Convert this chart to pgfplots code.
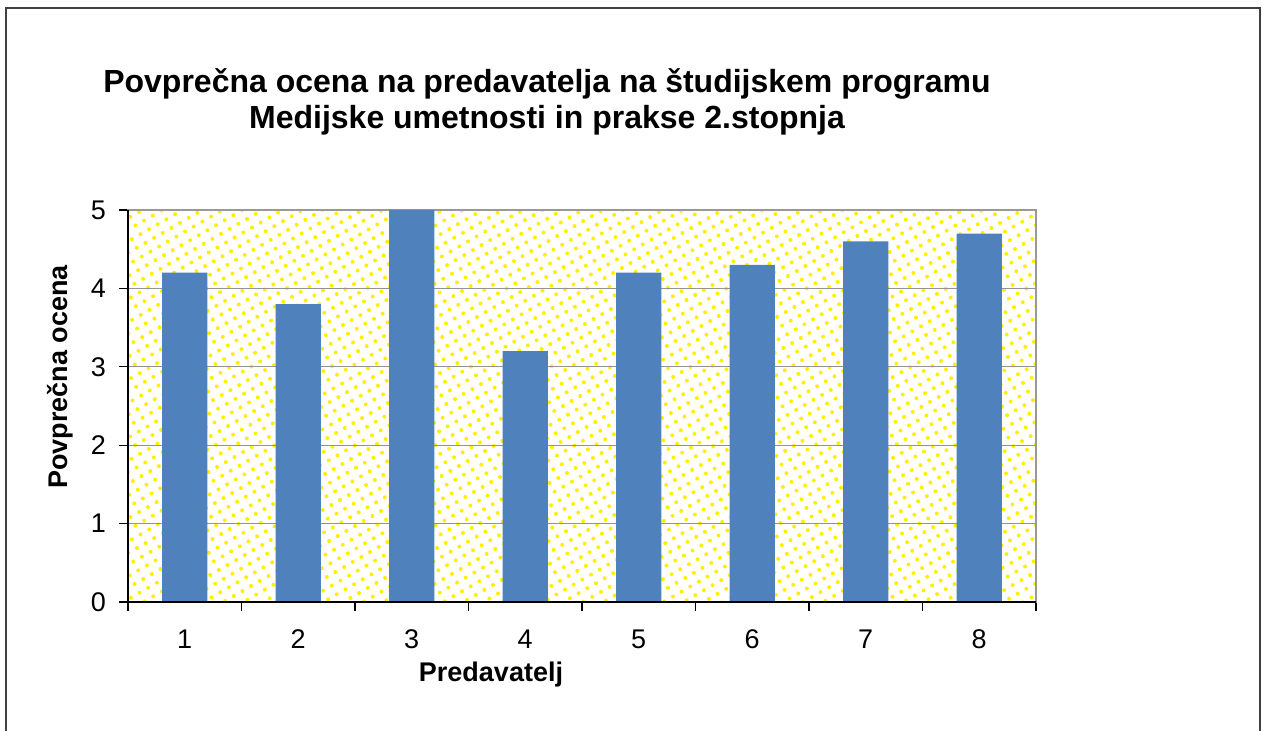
\documentclass[border=0pt]{standalone}
\usepackage{pgfplots}
\pgfplotsset{compat=1.18}
\usepackage{fontspec}
\setmainfont{Liberation Sans}
\usetikzlibrary{patterns.meta}
\definecolor{barblue}{RGB}{79,129,189}
\definecolor{dotyellow}{RGB}{255,240,0}
\begin{document}
\begin{tikzpicture}[x=0.5pt,y=-0.5pt]
\useasboundingbox (0,0) rectangle (1262,731);
\coordinate (A) at (128,602);
\draw[line width=0.8pt, black!75] (6,740) -- (6,8) -- (1260,8) -- (1260,740);
\node[font=\bfseries\fontsize{16}{18}\selectfont, align=center] at (547,102)
  {Povprečna ocena na predavatelja na študijskem programu\\Medijske umetnosti in prakse 2.stopnja};
\node[font=\bfseries\fontsize{13.5}{16}\selectfont, rotate=90] at (60,377) {Povprečna ocena};
\node[font=\bfseries\fontsize{13.5}{16}\selectfont] at (491,675) {Predavatelj};
\begin{axis}[
  at={(A)}, anchor=south west,
  width=454pt, height=196pt, scale only axis,
  xmin=0.5, xmax=8.5, ymin=0, ymax=5,
  xtick={1,...,8},
  minor xtick={0.5,1.5,...,8.5},
  ytick={0,1,...,5},
  major x tick style={draw=none},
  minor tick length=4.5pt,
  major tick length=4.5pt,
  tick align=outside, tick pos=left,
  tick style={black, line width=0.6pt},
  ymajorgrids, grid style={gray!85, line width=0.6pt},
  axis line style={gray!80, line width=0.8pt},
  axis background/.style={fill=white, postaction={pattern={Dots[distance=5pt, radius=1pt, angle=30]}, pattern color=dotyellow}},
  ticklabel style={font=\fontsize{13.5}{16}\selectfont},
  /pgf/number format/assume math mode=true,
  xticklabel style={yshift=-6pt},
  yticklabel style={xshift=-3pt},
  ybar, bar width=0.4,
  clip=false,
]
\addplot[fill=barblue, draw=none] coordinates {(1,4.2) (2,3.8) (3,5.0) (4,3.2) (5,4.2) (6,4.3) (7,4.6) (8,4.7)};
\draw[black, line width=0.8pt] (rel axis cs:0,1) -- (rel axis cs:0,0) -- (rel axis cs:1,0);
\end{axis}
\end{tikzpicture}
\end{document}
